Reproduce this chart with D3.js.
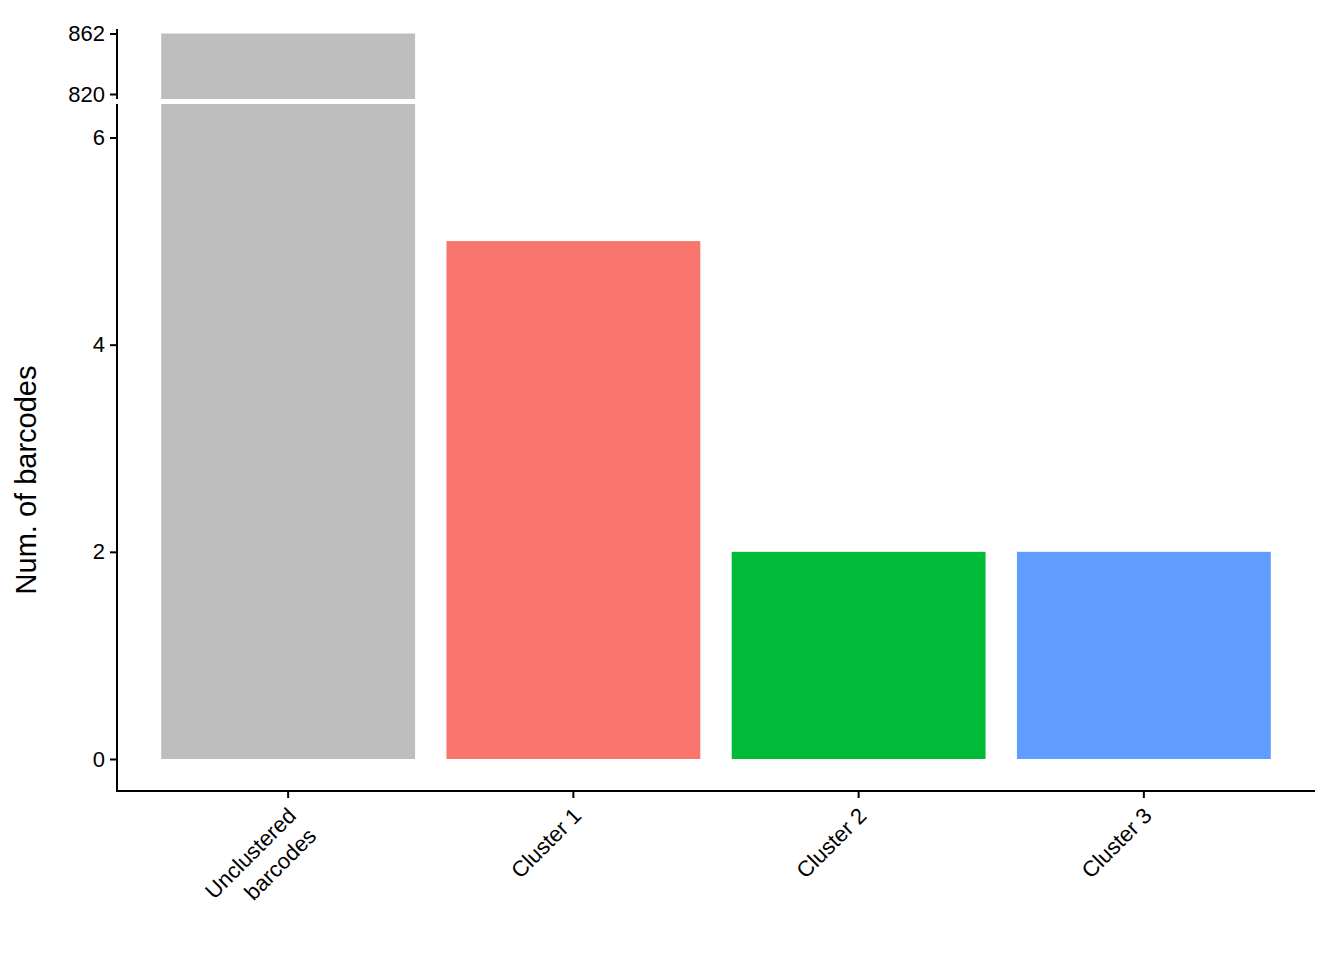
<!DOCTYPE html>
<html>
<head>
<meta charset="utf-8">
<script src="https://cdn.jsdelivr.net/npm/d3@7"></script>
<style>
  html, body { margin: 0; padding: 0; background: #fff; }
  svg { display: block; font-family: "Liberation Sans", Arial, Helvetica, sans-serif; }
</style>
</head>
<body>
<svg id="chart" width="1344" height="960"></svg>
<script>
// ---- data ----
const categories = ["Unclustered\nbarcodes", "Cluster 1", "Cluster 2", "Cluster 3"];
const values = [862, 5, 2, 2];
const barColors = ["#BEBEBE", "#F8766D", "#00BA38", "#619CFF"];
const lowerTicks = [0, 2, 4, 6];
const upperTicks = [820, 862];
const yTitle = "Num. of barcodes";

// ---- layout ----
const left = 117, right = 1315;
const lowerTop = 104, lowerBottom = 791;
const upperTop = 29, upperBottom = 99;

const svg = d3.select("#chart");

const x = d3.scaleLinear().domain([0.4, categories.length + 0.6]).range([left, right]);
const barW = 0.89;

const yLow = d3.scaleLinear().domain([0, 6]).range([759, 137.5]);
const yUp = d3.scaleLinear().domain([820, 862]).range([94, 33.5]);

const defs = svg.append("defs");
defs.append("clipPath").attr("id", "clipLow").append("rect")
  .attr("x", left).attr("y", lowerTop).attr("width", right - left).attr("height", lowerBottom - lowerTop);
defs.append("clipPath").attr("id", "clipUp").append("rect")
  .attr("x", left).attr("y", upperTop).attr("width", right - left).attr("height", upperBottom - upperTop);

const data = categories.map((c, i) => ({ c, v: values[i], col: barColors[i], i: i + 1 }));

// lower bars
svg.append("g").attr("clip-path", "url(#clipLow)")
  .selectAll("rect").data(data).join("rect")
  .attr("x", d => x(d.i - barW / 2))
  .attr("width", d => x(d.i + barW / 2) - x(d.i - barW / 2))
  .attr("y", d => Math.max(yLow(d.v), lowerTop - 5))
  .attr("height", d => yLow(0) - Math.max(yLow(d.v), lowerTop - 5))
  .attr("fill", d => d.col);

// upper bars
svg.append("g").attr("clip-path", "url(#clipUp)")
  .selectAll("rect").data(data.filter(d => d.v > yUp.domain()[0])).join("rect")
  .attr("x", d => x(d.i - barW / 2))
  .attr("width", d => x(d.i + barW / 2) - x(d.i - barW / 2))
  .attr("y", d => yUp(d.v))
  .attr("height", d => upperBottom + 5 - yUp(d.v))
  .attr("fill", d => d.col);

// y axes
function styleAxis(g) {
  g.select(".domain").remove();
  g.selectAll(".tick line").attr("stroke", "#000").attr("stroke-width", 2);
  g.selectAll(".tick text").attr("fill", "#000").style("font-size", "22px")
    .style("font-family", '"Liberation Sans", Arial, Helvetica, sans-serif');
}
svg.append("g").attr("transform", `translate(${left},0)`)
  .call(d3.axisLeft(yLow).tickValues(lowerTicks).tickSize(7).tickPadding(5).tickFormat(d3.format("d")))
  .call(styleAxis);
svg.append("g").attr("transform", `translate(${left},0)`)
  .call(d3.axisLeft(yUp).tickValues(upperTicks).tickSize(7).tickPadding(5).tickFormat(d3.format("d")))
  .call(styleAxis);

// axis lines
svg.append("line").attr("x1", left).attr("x2", left).attr("y1", lowerTop).attr("y2", lowerBottom + 1)
  .attr("stroke", "#000").attr("stroke-width", 2);
svg.append("line").attr("x1", left).attr("x2", left).attr("y1", upperTop).attr("y2", upperBottom)
  .attr("stroke", "#000").attr("stroke-width", 2);
svg.append("line").attr("x1", left - 1).attr("x2", right).attr("y1", lowerBottom).attr("y2", lowerBottom)
  .attr("stroke", "#000").attr("stroke-width", 2);

// x ticks
const xg = svg.append("g");
data.forEach(d => {
  const cx = x(d.i);
  xg.append("line").attr("x1", cx).attr("x2", cx).attr("y1", lowerBottom).attr("y2", lowerBottom + 7)
    .attr("stroke", "#000").attr("stroke-width", 2);
  const lines = d.c.split("\n");
  const t = xg.append("text")
    .attr("transform", `translate(${cx - 2},${lowerBottom + 15}) rotate(-45)`)
    .attr("text-anchor", "end")
    .attr("fill", "#000")
    .style("font-size", "22px");
  lines.forEach((ln, k) => {
    t.append("tspan").attr("x", 0).attr("dy", k === 0 ? "0.72em" : "1.3em").text(ln);
  });
});

// y title
svg.append("text")
  .attr("transform", `translate(36,480) rotate(-90)`)
  .attr("text-anchor", "middle")
  .attr("fill", "#000")
  .style("font-size", "29px")
  .text(yTitle);
</script>
</body>
</html>
